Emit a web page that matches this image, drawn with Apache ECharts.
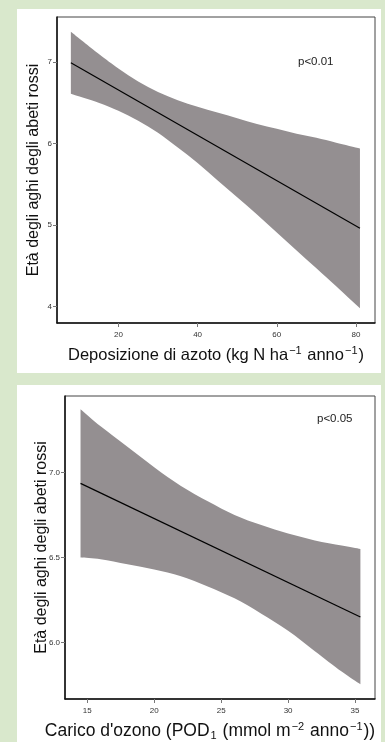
<!DOCTYPE html>
<html>
<head>
<meta charset="utf-8">
<script src="https://cdn.jsdelivr.net/npm/echarts@6/dist/echarts.min.js"></script>
<style>
  html, body { margin: 0; padding: 0; background: #d9e8cc; }
  #chart { width: 385px; height: 742px; }
</style>
</head>
<body>
<div id="chart"></div>
<script>
// Panel 1: needle age vs nitrogen deposition (fit line with confidence band)
const nDepX     = [8, 15, 20, 25, 30, 35, 40, 45, 50, 55, 60, 65, 70, 75, 81];
const nDepUpper = [7.37, 7.10, 6.92, 6.76, 6.63, 6.53, 6.45, 6.38, 6.31, 6.24, 6.18, 6.12, 6.07, 6.01, 5.94];
const nDepLower = [6.61, 6.50, 6.40, 6.28, 6.13, 5.95, 5.76, 5.55, 5.34, 5.13, 4.91, 4.69, 4.47, 4.25, 3.98];
const nDepFitX  = [8, 81];
const nDepFit   = [6.99, 4.96];
const nDepXTicks = [20, 40, 60, 80];
const nDepYTicks = [4, 5, 6, 7];

// Panel 2: needle age vs ozone load (POD1)
const ozX     = [14.5, 16, 18, 20, 22, 24, 26, 28, 30, 32, 34, 35.4];
const ozUpper = [7.37, 7.27, 7.15, 7.03, 6.92, 6.83, 6.75, 6.69, 6.64, 6.60, 6.57, 6.55];
const ozLower = [6.50, 6.49, 6.46, 6.43, 6.39, 6.33, 6.26, 6.17, 6.07, 5.95, 5.83, 5.755];
const ozFitX  = [14.5, 35.4];
const ozFit   = [6.935, 6.15];
const ozXTicks = [15, 20, 25, 30, 35];
const ozYTicks = [6.0, 6.5, 7.0];

const FONT = "'Liberation Sans', Arial, sans-serif";
const BAND = '#948f91';
const Y_TITLE = 'Età degli aghi degli abeti rossi';

const chart = echarts.init(document.getElementById('chart'), null, { renderer: 'canvas' });

const pairs = (xs, ys) => xs.map((x, i) => [x, ys[i]]);

// Smooth path through pixel points (Catmull-Rom written as cubic Béziers).
function curveThrough(pts, start) {
  const f = v => v.toFixed(2);
  let d = (start ? 'M' : 'L') + f(pts[0][0]) + ' ' + f(pts[0][1]);
  for (let i = 0; i < pts.length - 1; i++) {
    const p0 = pts[Math.max(i - 1, 0)], p1 = pts[i], p2 = pts[i + 1], p3 = pts[Math.min(i + 2, pts.length - 1)];
    const c1x = p1[0] + (p2[0] - p0[0]) / 6, c1y = p1[1] + (p2[1] - p0[1]) / 6;
    const c2x = p2[0] - (p3[0] - p1[0]) / 6, c2y = p2[1] - (p3[1] - p1[1]) / 6;
    d += ' C' + f(c1x) + ' ' + f(c1y) + ' ' + f(c2x) + ' ' + f(c2y) + ' ' + f(p2[0]) + ' ' + f(p2[1]);
  }
  return d;
}

function bandSeries(idx, xs, up, lo) {
  return {
    type: 'custom',
    xAxisIndex: idx, yAxisIndex: idx,
    silent: true,
    data: [[xs[0], up[0]]],
    renderItem: function (params, api) {
      const top = xs.map((x, i) => api.coord([x, up[i]]));
      const bottom = xs.map((x, i) => api.coord([x, lo[i]])).reverse();
      const d = curveThrough(top, true) + ' ' + curveThrough(bottom, false) + ' Z';
      return {
        type: 'path',
        shape: { pathData: d },
        style: { fill: BAND, stroke: null }
      };
    },
    z: 2
  };
}

function fitSeries(idx, xs, ys) {
  return {
    type: 'line',
    xAxisIndex: idx, yAxisIndex: idx,
    data: pairs(xs, ys),
    showSymbol: false, silent: true,
    lineStyle: { color: '#000', width: 1.2 },
    z: 3
  };
}

function richTitle(size) {
  const s = Math.round(size * 0.65);
  return {
    n: { fontSize: size, color: '#111', fontFamily: FONT, lineHeight: 20 },
    sup: { fontSize: s, color: '#111', fontFamily: FONT, verticalAlign: 'top', lineHeight: 20, padding: [0, 1, 6, 1] },
    sub: { fontSize: s, color: '#111', fontFamily: FONT, verticalAlign: 'bottom', lineHeight: 20, padding: [6, 1, 0, 1] }
  };
}

function xAxisCfg(idx, min, max, ticks, name, size, pad) {
  return {
    type: 'value', gridIndex: idx, min: min, max: max,
    splitLine: { show: false },
    axisLine: { show: true, onZero: false, lineStyle: { color: '#111', width: 1.5 } },
    axisTick: { show: true, length: 4, customValues: ticks, lineStyle: { color: '#777', width: 1 } },
    axisLabel: { customValues: ticks, fontSize: 8, color: '#333', fontFamily: FONT, margin: 8 },
    name: name, nameLocation: 'middle', nameGap: 22, nameMoveOverlap: false,
    nameTextStyle: { fontSize: size, color: '#111', fontFamily: FONT, rich: richTitle(size), padding: pad }
  };
}

function yAxisCfg(idx, min, max, ticks, fmt) {
  return {
    type: 'value', gridIndex: idx, min: min, max: max,
    splitLine: { show: false },
    axisLine: { show: true, onZero: false, lineStyle: { color: '#111', width: 1.5 } },
    axisTick: { show: true, length: 4, customValues: ticks, lineStyle: { color: '#777', width: 1 } },
    axisLabel: { customValues: ticks, fontSize: 8, color: '#333', fontFamily: FONT, margin: 5, formatter: fmt },
    name: Y_TITLE, nameLocation: 'middle', nameGap: 15, nameRotate: 90, nameMoveOverlap: false,
    nameTextStyle: { fontSize: 16, color: '#111', fontFamily: FONT }
  };
}

const option = {
  animation: false,
  backgroundColor: '#d9e8cc',
  graphic: [
    { type: 'rect', shape: { x: 17, y: 9, width: 364, height: 364 }, style: { fill: '#fff' }, z: -10 },
    { type: 'rect', shape: { x: 17, y: 385, width: 364, height: 370 }, style: { fill: '#fff' }, z: -10 },
    { type: 'text', left: 298, top: 56, style: { text: 'p<0.01', font: '11.5px ' + FONT, fill: '#222' }, z: 10 },
    { type: 'text', left: 317, top: 413, style: { text: 'p<0.05', font: '11.5px ' + FONT, fill: '#222' }, z: 10 }
  ],
  grid: [
    { left: 57, top: 17, width: 318, height: 306, show: true, borderColor: '#444', borderWidth: 1, backgroundColor: 'transparent' },
    { left: 65, top: 396, width: 310, height: 306, show: true, borderColor: '#444', borderWidth: 1, backgroundColor: 'transparent' }
  ],
  xAxis: [
    xAxisCfg(0, 4.5, 84.8, nDepXTicks,
      '{n|Deposizione di azoto (kg N ha}{sup|−1}{n| anno}{sup|−1}{n|)}', 16.5, [0, 0, 0, 0]),
    xAxisCfg(1, 13.34, 36.49, ozXTicks,
      "{n|Carico d'ozono (POD}{sub|1}{n| (mmol m}{sup|−2}{n| anno}{sup|−1}{n|))}", 17.5, [0, 20, 0, 0])
  ],
  yAxis: [
    yAxisCfg(0, 3.8, 7.55, nDepYTicks, v => String(v)),
    yAxisCfg(1, 5.669, 7.448, ozYTicks, v => v.toFixed(1))
  ],
  series: [
    bandSeries(0, nDepX, nDepUpper, nDepLower),
    fitSeries(0, nDepFitX, nDepFit),
    bandSeries(1, ozX, ozUpper, ozLower),
    fitSeries(1, ozFitX, ozFit)
  ]
};

chart.setOption(option);
</script>
</body>
</html>
